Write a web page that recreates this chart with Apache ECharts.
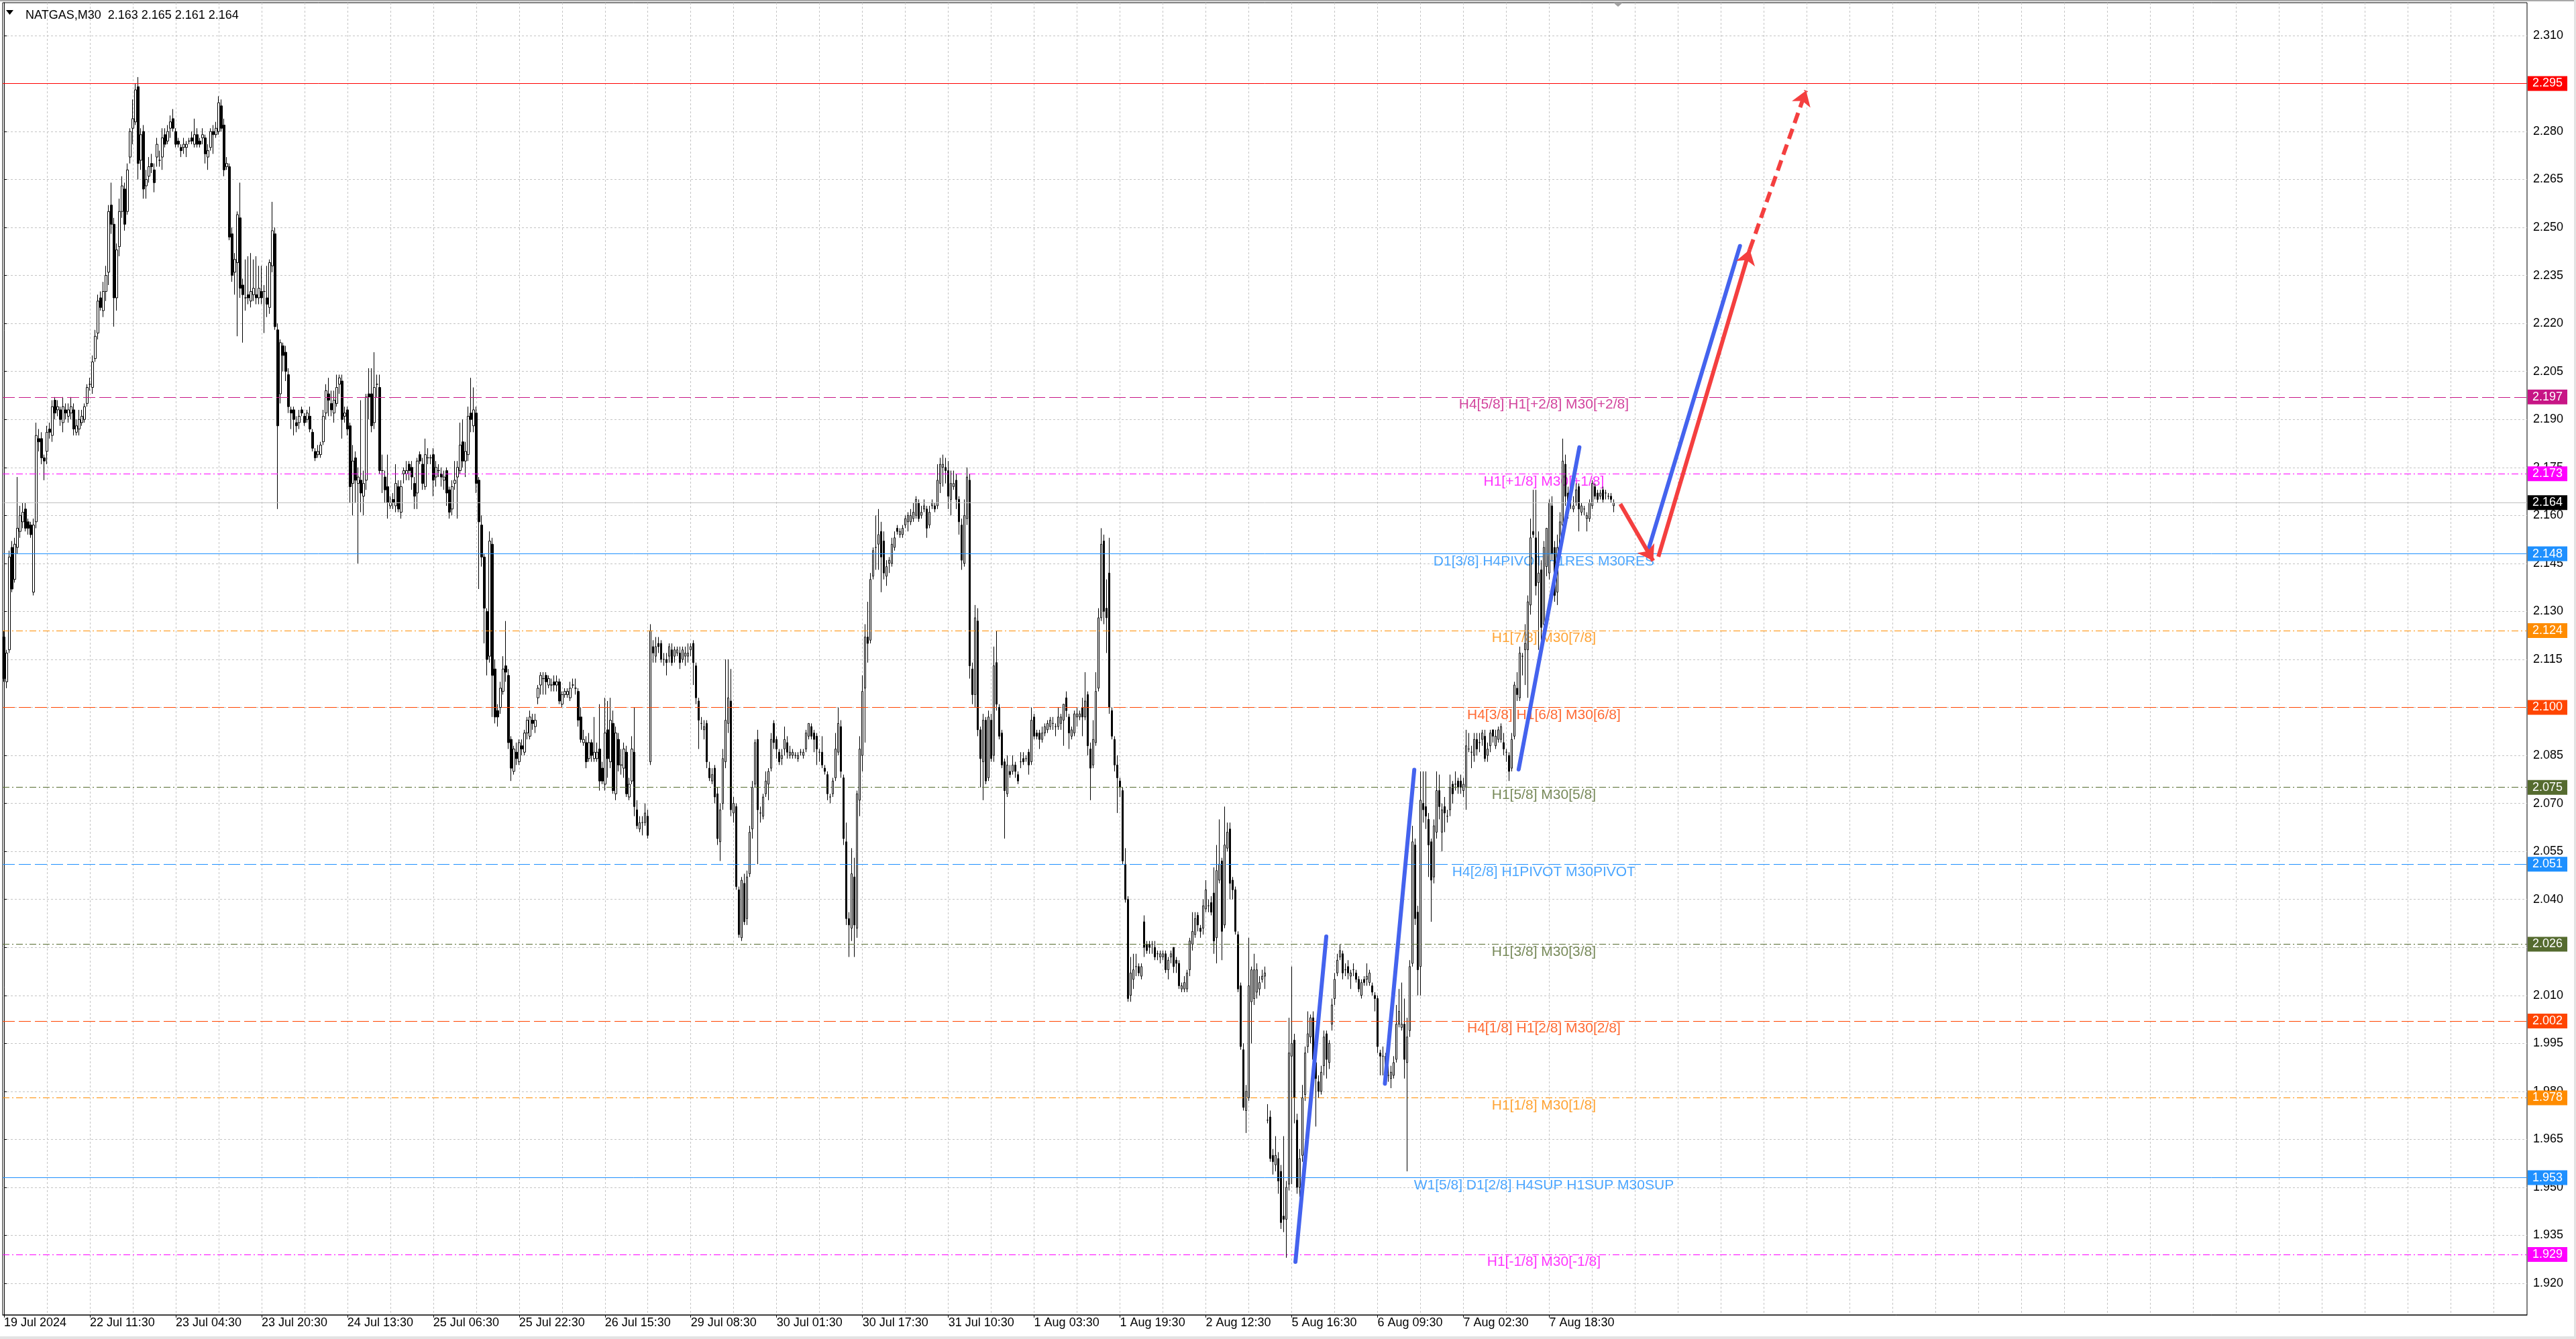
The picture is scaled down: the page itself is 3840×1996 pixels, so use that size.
<!DOCTYPE html>
<html><head><meta charset="utf-8">
<script src="https://cdn.jsdelivr.net/npm/echarts@6/dist/echarts.min.js"></script>
<style>html,body{margin:0;padding:0;background:#fff;overflow:hidden}#c{width:3840px;height:1996px}</style>
</head><body><div id="c"></div>
<script>
// ---------------- data ----------------
const chartTitle = 'NATGAS,M30  2.163 2.165 2.161 2.164';
const timeLabels = ['19 Jul 2024','22 Jul 11:30','23 Jul 04:30','23 Jul 20:30','24 Jul 13:30','25 Jul 06:30','25 Jul 22:30','26 Jul 15:30','29 Jul 08:30','30 Jul 01:30','30 Jul 17:30','31 Jul 10:30','1 Aug 03:30','1 Aug 19:30','2 Aug 12:30','5 Aug 16:30','6 Aug 09:30','7 Aug 02:30','7 Aug 18:30'];
const yTicks = [1.920,1.935,1.950,1.965,1.980,1.995,2.010,2.025,2.040,2.055,2.070,2.085,2.100,2.115,2.130,2.145,2.160,2.175,2.190,2.205,2.220,2.235,2.250,2.265,2.280,2.295,2.310];
// [open, high, low, close]
const bars = [
[2.122,2.124,2.108,2.109],[2.108,2.118,2.106,2.117],[2.118,2.149,2.117,2.147],[2.150,2.152,2.136,2.137],[2.140,2.153,2.139,2.151],
[2.150,2.172,2.148,2.156],[2.155,2.163,2.153,2.160],[2.158,2.164,2.156,2.161],[2.162,2.164,2.155,2.156],[2.158,2.159,2.154,2.156],
[2.157,2.158,2.153,2.154],[2.136,2.159,2.135,2.157],[2.158,2.189,2.156,2.185],[2.184,2.187,2.180,2.183],[2.184,2.186,2.176,2.178],
[2.178,2.179,2.171,2.177],[2.180,2.188,2.176,2.186],[2.187,2.189,2.184,2.186],[2.185,2.196,2.183,2.194],[2.196,2.197,2.190,2.192],
[2.193,2.196,2.191,2.194],[2.193,2.194,2.188,2.190],[2.189,2.197,2.186,2.194],[2.193,2.195,2.190,2.192],[2.191,2.195,2.189,2.193],
[2.192,2.197,2.190,2.194],[2.193,2.195,2.185,2.187],[2.186,2.190,2.185,2.188],[2.187,2.193,2.185,2.190],[2.189,2.193,2.188,2.191],
[2.190,2.195,2.189,2.194],[2.195,2.201,2.194,2.200],[2.201,2.203,2.199,2.201],[2.200,2.210,2.198,2.208],[2.209,2.218,2.208,2.216],
[2.217,2.229,2.215,2.227],[2.228,2.230,2.224,2.225],[2.224,2.233,2.222,2.230],[2.230,2.238,2.227,2.235],[2.236,2.257,2.232,2.255],
[2.257,2.264,2.248,2.251],[2.251,2.253,2.219,2.228],[2.228,2.245,2.224,2.243],[2.244,2.259,2.241,2.255],[2.255,2.266,2.253,2.263],
[2.262,2.264,2.249,2.251],[2.255,2.270,2.254,2.268],[2.272,2.281,2.270,2.280],[2.281,2.290,2.276,2.284],[2.283,2.295,2.282,2.293],
[2.294,2.297,2.265,2.270],[2.271,2.281,2.268,2.279],[2.280,2.282,2.259,2.262],[2.263,2.268,2.259,2.265],[2.266,2.272,2.264,2.269],
[2.270,2.273,2.267,2.269],[2.268,2.270,2.261,2.264],[2.272,2.278,2.269,2.276],[2.271,2.274,2.269,2.271],[2.272,2.281,2.268,2.278],
[2.279,2.281,2.275,2.276],[2.277,2.282,2.276,2.280],[2.281,2.285,2.278,2.283],[2.284,2.287,2.280,2.281],[2.280,2.281,2.275,2.276],
[2.277,2.278,2.275,2.276],[2.275,2.276,2.272,2.274],[2.275,2.278,2.273,2.276],[2.275,2.277,2.272,2.276],[2.277,2.278,2.276,2.277],
[2.278,2.280,2.276,2.277],[2.276,2.284,2.275,2.279],[2.279,2.281,2.275,2.276],[2.277,2.278,2.275,2.276],[2.278,2.281,2.276,2.279],
[2.278,2.279,2.270,2.273],[2.272,2.276,2.268,2.274],[2.275,2.281,2.274,2.280],[2.280,2.282,2.273,2.279],[2.279,2.283,2.278,2.281],
[2.280,2.291,2.279,2.289],[2.288,2.290,2.280,2.281],[2.282,2.284,2.266,2.268],[2.269,2.272,2.268,2.270],[2.269,2.270,2.246,2.247],
[2.248,2.250,2.233,2.235],[2.236,2.242,2.229,2.240],[2.239,2.255,2.216,2.254],[2.253,2.264,2.228,2.231],[2.232,2.234,2.214,2.229],
[2.228,2.240,2.224,2.228],[2.229,2.241,2.226,2.228],[2.227,2.242,2.225,2.230],[2.229,2.240,2.227,2.231],[2.229,2.241,2.226,2.228],
[2.228,2.238,2.226,2.231],[2.230,2.238,2.226,2.228],[2.230,2.232,2.217,2.230],[2.228,2.238,2.222,2.226],[2.225,2.240,2.223,2.239],
[2.238,2.258,2.236,2.249],[2.248,2.250,2.218,2.219],[2.218,2.220,2.162,2.188],[2.198,2.215,2.195,2.214],[2.213,2.214,2.205,2.210],
[2.211,2.213,2.202,2.205],[2.204,2.206,2.192,2.194],[2.193,2.194,2.187,2.192],[2.193,2.194,2.185,2.190],[2.189,2.191,2.186,2.188],
[2.189,2.193,2.187,2.191],[2.193,2.194,2.191,2.192],[2.191,2.192,2.188,2.189],[2.190,2.193,2.189,2.192],[2.191,2.194,2.186,2.187],
[2.186,2.187,2.180,2.181],[2.180,2.181,2.177,2.178],[2.179,2.182,2.178,2.180],[2.179,2.183,2.178,2.182],[2.183,2.193,2.182,2.191],
[2.192,2.201,2.190,2.199],[2.198,2.203,2.191,2.196],[2.195,2.199,2.191,2.193],[2.192,2.199,2.189,2.196],[2.195,2.204,2.194,2.200],
[2.201,2.204,2.198,2.203],[2.202,2.204,2.184,2.190],[2.191,2.194,2.189,2.192],[2.193,2.194,2.185,2.187],[2.188,2.189,2.164,2.169],
[2.170,2.182,2.160,2.177],[2.178,2.180,2.164,2.171],[2.170,2.175,2.145,2.172],[2.171,2.196,2.161,2.167],[2.166,2.174,2.160,2.170],
[2.171,2.198,2.168,2.197],[2.198,2.206,2.190,2.197],[2.198,2.206,2.186,2.188],[2.189,2.211,2.187,2.200],[2.201,2.204,2.197,2.201],
[2.200,2.204,2.173,2.174],[2.174,2.179,2.167,2.174],[2.172,2.174,2.164,2.168],[2.169,2.179,2.159,2.164],[2.163,2.166,2.162,2.164],
[2.165,2.167,2.162,2.164],[2.163,2.176,2.161,2.170],[2.169,2.171,2.161,2.162],[2.161,2.171,2.159,2.169],[2.173,2.175,2.170,2.174],
[2.173,2.177,2.171,2.174],[2.176,2.177,2.171,2.174],[2.175,2.177,2.168,2.172],[2.170,2.172,2.162,2.166],[2.167,2.178,2.162,2.177],
[2.179,2.180,2.176,2.177],[2.176,2.178,2.168,2.170],[2.169,2.184,2.168,2.179],[2.178,2.181,2.176,2.178],[2.178,2.179,2.176,2.178],
[2.179,2.181,2.166,2.171],[2.172,2.177,2.169,2.175],[2.174,2.176,2.172,2.174],[2.173,2.175,2.169,2.172],[2.171,2.174,2.168,2.172],
[2.174,2.175,2.163,2.167],[2.168,2.169,2.159,2.161],[2.162,2.171,2.160,2.169],[2.170,2.177,2.168,2.171],[2.172,2.177,2.159,2.175],
[2.174,2.189,2.173,2.182],[2.183,2.190,2.175,2.177],[2.177,2.183,2.172,2.180],[2.179,2.194,2.177,2.191],[2.192,2.203,2.186,2.190],
[2.188,2.200,2.186,2.193],[2.192,2.194,2.167,2.170],[2.171,2.172,2.137,2.158],[2.157,2.160,2.144,2.147],[2.147,2.148,2.120,2.131],
[2.130,2.131,2.110,2.115],[2.116,2.155,2.114,2.152],[2.151,2.153,2.097,2.110],[2.112,2.115,2.095,2.097],[2.099,2.101,2.094,2.097],
[2.100,2.108,2.098,2.106],[2.105,2.116,2.104,2.112],[2.113,2.127,2.108,2.111],[2.110,2.112,2.087,2.089],[2.090,2.091,2.077,2.081],
[2.080,2.088,2.079,2.087],[2.086,2.089,2.082,2.084],[2.083,2.090,2.082,2.089],[2.088,2.090,2.085,2.087],[2.086,2.093,2.085,2.092],
[2.092,2.097,2.090,2.096],[2.091,2.099,2.090,2.097],[2.096,2.098,2.093,2.095],[2.094,2.098,2.092,2.096],[2.103,2.107,2.101,2.106],
[2.107,2.111,2.104,2.110],[2.109,2.111,2.104,2.109],[2.110,2.111,2.104,2.108],[2.107,2.110,2.106,2.109],[2.107,2.109,2.105,2.107],
[2.108,2.110,2.105,2.107],[2.107,2.110,2.105,2.108],[2.108,2.109,2.101,2.102],[2.101,2.105,2.100,2.104],[2.104,2.106,2.103,2.105],
[2.104,2.106,2.103,2.105],[2.103,2.108,2.102,2.106],[2.107,2.109,2.106,2.107],[2.106,2.109,2.104,2.106],[2.105,2.106,2.094,2.096],
[2.097,2.100,2.089,2.090],[2.089,2.093,2.088,2.090],[2.089,2.091,2.081,2.083],[2.084,2.092,2.083,2.089],[2.089,2.090,2.083,2.085],
[2.084,2.097,2.083,2.086],[2.084,2.089,2.083,2.086],[2.087,2.101,2.074,2.077],[2.081,2.083,2.076,2.077],[2.076,2.103,2.074,2.092],
[2.093,2.102,2.078,2.084],[2.083,2.103,2.081,2.096],[2.095,2.099,2.073,2.074],[2.073,2.094,2.071,2.092],[2.090,2.092,2.080,2.082],
[2.082,2.087,2.079,2.082],[2.081,2.089,2.078,2.087],[2.086,2.088,2.072,2.073],[2.072,2.078,2.071,2.076],[2.077,2.091,2.076,2.087],
[2.086,2.100,2.066,2.069],[2.068,2.071,2.062,2.063],[2.062,2.066,2.061,2.064],[2.064,2.066,2.060,2.064],[2.064,2.070,2.063,2.067],
[2.066,2.068,2.059,2.060],[2.083,2.126,2.082,2.124],[2.119,2.121,2.114,2.117],[2.116,2.122,2.114,2.119],[2.120,2.122,2.117,2.119],
[2.120,2.121,2.114,2.115],[2.115,2.117,2.113,2.115],[2.115,2.117,2.110,2.114],[2.116,2.120,2.114,2.119],[2.118,2.120,2.113,2.114],
[2.116,2.119,2.114,2.118],[2.117,2.119,2.116,2.118],[2.117,2.119,2.112,2.114],[2.115,2.119,2.114,2.118],[2.116,2.119,2.113,2.117],
[2.116,2.120,2.114,2.117],[2.118,2.120,2.116,2.119],[2.120,2.121,2.107,2.114],[2.113,2.114,2.101,2.103],[2.102,2.103,2.087,2.096],
[2.095,2.097,2.093,2.095],[2.093,2.096,2.090,2.094],[2.095,2.096,2.081,2.083],[2.081,2.083,2.077,2.078],[2.077,2.081,2.076,2.079],
[2.081,2.082,2.070,2.072],[2.073,2.075,2.057,2.059],[2.058,2.070,2.052,2.068],[2.070,2.087,2.068,2.084],[2.083,2.115,2.081,2.096],
[2.095,2.115,2.092,2.103],[2.102,2.112,2.066,2.068],[2.067,2.072,2.064,2.070],[2.069,2.070,2.043,2.044],[2.043,2.044,2.028,2.029],
[2.028,2.047,2.027,2.046],[2.045,2.048,2.032,2.033],[2.034,2.049,2.032,2.047],[2.048,2.063,2.047,2.061],[2.062,2.077,2.059,2.075],
[2.076,2.090,2.075,2.089],[2.090,2.093,2.051,2.068],[2.067,2.069,2.064,2.067],[2.066,2.073,2.065,2.072],[2.073,2.080,2.072,2.077],
[2.076,2.081,2.071,2.080],[2.081,2.092,2.080,2.090],[2.095,2.096,2.087,2.089],[2.090,2.091,2.084,2.087],[2.086,2.087,2.082,2.083],
[2.084,2.087,2.082,2.085],[2.087,2.094,2.085,2.090],[2.089,2.091,2.084,2.086],[2.085,2.088,2.084,2.086],[2.085,2.087,2.084,2.086],
[2.085,2.086,2.084,2.085],[2.084,2.086,2.083,2.085],[2.086,2.087,2.085,2.086],[2.085,2.087,2.084,2.086],[2.087,2.093,2.086,2.092],
[2.091,2.095,2.090,2.095],[2.094,2.095,2.090,2.091],[2.092,2.093,2.086,2.090],[2.091,2.092,2.082,2.087],[2.086,2.087,2.083,2.086],
[2.086,2.091,2.081,2.082],[2.081,2.082,2.079,2.080],[2.079,2.080,2.071,2.073],[2.072,2.073,2.070,2.072],[2.073,2.078,2.072,2.077],
[2.078,2.092,2.077,2.087],[2.086,2.100,2.085,2.095],[2.094,2.096,2.078,2.080],[2.078,2.079,2.057,2.059],[2.058,2.064,2.032,2.034],
[2.034,2.036,2.022,2.032],[2.031,2.056,2.027,2.048],[2.047,2.053,2.022,2.032],[2.031,2.074,2.028,2.073],[2.071,2.091,2.066,2.087],
[2.085,2.110,2.080,2.105],[2.106,2.126,2.089,2.122],[2.122,2.133,2.114,2.120],[2.121,2.142,2.120,2.140],[2.141,2.150,2.140,2.149],
[2.150,2.160,2.143,2.150],[2.151,2.162,2.143,2.154],[2.155,2.158,2.136,2.147],[2.152,2.155,2.140,2.142],[2.141,2.146,2.138,2.144],
[2.145,2.147,2.142,2.146],[2.145,2.153,2.144,2.151],[2.150,2.155,2.149,2.153],[2.156,2.157,2.154,2.155],[2.154,2.156,2.153,2.155],
[2.154,2.157,2.153,2.156],[2.157,2.160,2.156,2.159],[2.158,2.161,2.155,2.160],[2.158,2.162,2.157,2.160],[2.159,2.164,2.158,2.161],
[2.160,2.166,2.159,2.165],[2.164,2.165,2.158,2.159],[2.160,2.163,2.159,2.161],[2.162,2.165,2.161,2.163],[2.162,2.163,2.153,2.156],
[2.157,2.163,2.156,2.161],[2.163,2.165,2.162,2.164],[2.163,2.164,2.161,2.162],[2.163,2.176,2.162,2.171],[2.170,2.178,2.167,2.176],
[2.175,2.179,2.169,2.176],[2.175,2.178,2.170,2.174],[2.174,2.177,2.162,2.166],[2.165,2.174,2.160,2.170],[2.169,2.174,2.168,2.170],
[2.171,2.173,2.162,2.165],[2.165,2.166,2.154,2.158],[2.157,2.159,2.143,2.146],[2.145,2.165,2.144,2.160],[2.159,2.175,2.157,2.172],
[2.171,2.173,2.109,2.113],[2.112,2.114,2.101,2.104],[2.104,2.132,2.100,2.128],[2.127,2.131,2.091,2.093],[2.093,2.094,2.075,2.084],
[2.083,2.098,2.071,2.096],[2.096,2.097,2.076,2.077],[2.078,2.099,2.077,2.097],[2.096,2.098,2.083,2.084],[2.085,2.119,2.083,2.113],
[2.114,2.124,2.099,2.101],[2.100,2.101,2.090,2.091],[2.092,2.093,2.081,2.082],[2.083,2.084,2.059,2.074],[2.073,2.085,2.072,2.082],
[2.080,2.082,2.078,2.079],[2.080,2.085,2.079,2.082],[2.082,2.083,2.078,2.080],[2.079,2.080,2.076,2.077],[2.083,2.086,2.081,2.083],
[2.084,2.086,2.082,2.083],[2.084,2.085,2.083,2.084],[2.086,2.087,2.079,2.082],[2.083,2.100,2.082,2.096],[2.097,2.098,2.090,2.091],
[2.092,2.093,2.090,2.091],[2.092,2.093,2.087,2.090],[2.090,2.094,2.089,2.092],[2.092,2.095,2.091,2.094],[2.093,2.096,2.092,2.095],
[2.094,2.097,2.093,2.096],[2.095,2.097,2.093,2.095],[2.094,2.095,2.091,2.094],[2.094,2.100,2.093,2.097],[2.095,2.098,2.093,2.097],
[2.096,2.101,2.088,2.101],[2.103,2.105,2.097,2.099],[2.097,2.098,2.087,2.092],[2.091,2.094,2.090,2.093],[2.092,2.099,2.091,2.098],
[2.097,2.100,2.094,2.098],[2.097,2.099,2.096,2.098],[2.100,2.103,2.091,2.097],[2.097,2.111,2.096,2.102],[2.104,2.105,2.085,2.088],
[2.087,2.089,2.071,2.081],[2.082,2.096,2.081,2.090],[2.089,2.111,2.088,2.105],[2.106,2.131,2.105,2.128],[2.128,2.156,2.127,2.151],
[2.152,2.154,2.126,2.130],[2.131,2.140,2.117,2.128],[2.142,2.153,2.098,2.100],[2.099,2.100,2.090,2.091],[2.090,2.091,2.080,2.082],
[2.082,2.085,2.067,2.078],[2.077,2.078,2.072,2.075],[2.074,2.075,2.051,2.052],[2.051,2.056,2.039,2.040],[2.040,2.041,2.008,2.009],
[2.010,2.022,2.008,2.017],[2.015,2.023,2.012,2.018],[2.019,2.023,2.016,2.019],[2.019,2.020,2.016,2.017],[2.016,2.020,2.015,2.019],
[2.033,2.035,2.022,2.025],[2.026,2.027,2.023,2.024],[2.026,2.027,2.023,2.025],[2.026,2.027,2.023,2.026],[2.025,2.027,2.021,2.022],
[2.023,2.024,2.021,2.023],[2.022,2.024,2.020,2.023],[2.022,2.024,2.021,2.023],[2.023,2.024,2.017,2.018],[2.018,2.022,2.015,2.021],
[2.022,2.024,2.020,2.023],[2.025,2.025,2.017,2.019],[2.021,2.022,2.017,2.020],[2.020,2.021,2.012,2.013],[2.012,2.014,2.011,2.013],
[2.012,2.016,2.011,2.014],[2.012,2.018,2.011,2.017],[2.018,2.028,2.016,2.027],[2.026,2.036,2.024,2.030],[2.029,2.036,2.028,2.034],
[2.035,2.036,2.030,2.032],[2.031,2.032,2.028,2.030],[2.031,2.040,2.029,2.038],[2.037,2.046,2.036,2.043],[2.038,2.040,2.036,2.038],
[2.039,2.041,2.035,2.036],[2.042,2.050,2.023,2.027],[2.028,2.057,2.020,2.049],[2.046,2.065,2.045,2.051],[2.052,2.053,2.021,2.030],
[2.032,2.069,2.031,2.057],[2.056,2.064,2.055,2.061],[2.062,2.064,2.040,2.045],[2.046,2.047,2.040,2.043],[2.043,2.044,2.029,2.030],
[2.029,2.030,2.011,2.012],[2.013,2.014,1.993,1.994],[1.993,1.995,1.974,1.975],[1.974,1.982,1.967,1.980],[1.978,2.028,1.977,2.013],
[2.008,2.019,1.995,2.018],[2.009,2.023,2.007,2.018],[2.011,2.020,2.009,2.018],[2.012,2.016,2.010,2.014],[2.015,2.018,2.014,2.016],
[2.016,2.019,2.012,2.017],[1.971,1.976,1.970,1.971],[1.972,1.974,1.958,1.959],[1.960,1.962,1.954,1.958],[1.957,1.966,1.955,1.960],
[1.959,1.961,1.948,1.952],[1.955,1.957,1.937,1.939],[1.941,1.966,1.936,1.940],[1.940,1.952,1.928,1.950],[1.951,2.003,1.949,1.992],
[1.991,2.019,1.951,1.995],[1.996,1.998,1.970,1.978],[1.971,1.973,1.948,1.950],[1.950,1.962,1.947,1.959],[1.960,1.982,1.958,1.978],
[1.979,1.994,1.977,1.992],[1.994,2.005,1.992,1.998],[1.997,2.004,1.995,2.003],[2.003,2.005,1.988,1.990],[1.989,1.990,1.969,1.984],
[1.983,1.985,1.978,1.980],[1.980,1.988,1.979,1.986],[1.988,1.999,1.985,1.997],[1.998,1.999,1.984,1.990],[1.989,1.996,1.987,1.995],
[2.001,2.009,1.999,2.007],[2.009,2.017,2.007,2.015],[2.017,2.023,2.016,2.021],[2.022,2.026,2.021,2.024],[2.023,2.024,2.015,2.017],
[2.018,2.020,2.016,2.018],[2.019,2.021,2.015,2.017],[2.016,2.018,2.012,2.017],[2.018,2.020,2.016,2.018],[2.017,2.018,2.014,2.015],
[2.015,2.016,2.011,2.012],[2.010,2.015,2.009,2.014],[2.015,2.016,2.013,2.014],[2.015,2.020,2.013,2.016],[2.014,2.018,2.013,2.017],
[2.013,2.014,2.010,2.011],[2.010,2.011,2.005,2.009],[2.009,2.010,1.992,1.994],[1.992,1.993,1.985,1.991],[1.991,1.994,1.985,1.991],
[1.988,1.992,1.987,1.991],[1.985,1.988,1.983,1.985],[1.984,1.988,1.981,1.986],[1.985,1.991,1.984,1.989],[1.990,2.007,1.989,2.001],
[2.001,2.012,2.000,2.005],[2.000,2.014,1.999,2.001],[2.001,2.009,1.984,1.990],[1.989,2.003,1.955,1.997],[1.999,2.021,1.997,2.019],
[2.020,2.063,2.019,2.058],[2.057,2.059,2.032,2.034],[2.036,2.038,2.010,2.018],[2.019,2.080,2.010,2.071],[2.070,2.080,2.064,2.068],
[2.069,2.080,2.062,2.066],[2.065,2.067,2.047,2.057],[2.058,2.059,2.033,2.046],[2.047,2.065,2.045,2.063],[2.061,2.080,2.059,2.074],
[2.074,2.079,2.065,2.069],[2.061,2.070,2.055,2.068],[2.069,2.072,2.061,2.067],[2.066,2.068,2.064,2.066],[2.068,2.079,2.066,2.075],
[2.076,2.077,2.070,2.073],[2.076,2.080,2.074,2.076],[2.077,2.078,2.073,2.075],[2.077,2.079,2.073,2.075],[2.074,2.078,2.072,2.076],
[2.075,2.093,2.068,2.088],[2.087,2.092,2.086,2.087],[2.086,2.088,2.081,2.086],[2.085,2.092,2.083,2.090],[2.090,2.092,2.085,2.087],
[2.089,2.092,2.086,2.089],[2.090,2.093,2.088,2.092],[2.091,2.093,2.083,2.084],[2.085,2.089,2.083,2.087],[2.088,2.093,2.086,2.092],
[2.093,2.093,2.089,2.091],[2.088,2.093,2.087,2.091],[2.090,2.094,2.089,2.093],[2.090,2.095,2.089,2.094],[2.089,2.092,2.085,2.087],
[2.086,2.087,2.083,2.086],[2.085,2.086,2.077,2.080],[2.081,2.092,2.080,2.090],[2.091,2.108,2.090,2.107],[2.106,2.111,2.102,2.104],
[2.103,2.119,2.102,2.117],[2.116,2.117,2.110,2.116],[2.118,2.126,2.107,2.120],[2.118,2.135,2.103,2.133],[2.132,2.159,2.129,2.153],
[2.155,2.168,2.153,2.154],[2.153,2.168,2.135,2.138],[2.139,2.155,2.118,2.142],[2.143,2.146,2.121,2.125],[2.126,2.152,2.124,2.150],
[2.144,2.156,2.141,2.156],[2.142,2.165,2.140,2.164],[2.163,2.166,2.146,2.148],[2.150,2.152,2.133,2.135],[2.136,2.154,2.132,2.150],
[2.149,2.161,2.147,2.158],[2.157,2.184,2.156,2.177],[2.176,2.179,2.163,2.166],[2.167,2.169,2.159,2.163],[2.165,2.167,2.162,2.165],
[2.162,2.166,2.161,2.163],[2.164,2.170,2.163,2.168],[2.169,2.170,2.155,2.162],[2.161,2.164,2.160,2.163],[2.162,2.163,2.160,2.162],
[2.159,2.161,2.155,2.160],[2.159,2.165,2.158,2.164],[2.163,2.171,2.162,2.170],[2.169,2.170,2.165,2.166],[2.167,2.168,2.164,2.165],
[2.166,2.168,2.165,2.167],[2.168,2.169,2.164,2.165],[2.167,2.168,2.165,2.167],[2.166,2.167,2.165,2.166],[2.166,2.167,2.164,2.165],
[2.163,2.165,2.161,2.164]
];
const levelPrices = [2.295,2.197,2.173,2.164,2.148,2.124,2.100,2.075,2.051,2.026,2.002,1.978,1.953,1.929];
const levelTexts = ['','H4[5/8] H1[+2/8] M30[+2/8]','H1[+1/8] M30[+1/8]','','D1[3/8] H4PIVOT H1RES M30RES','H1[7/8] M30[7/8]','H4[3/8] H1[6/8] M30[6/8]','H1[5/8] M30[5/8]','H4[2/8] H1PIVOT M30PIVOT','H1[3/8] M30[3/8]','H4[1/8] H1[2/8] M30[2/8]','H1[1/8] M30[1/8]','W1[5/8] D1[2/8] H4SUP H1SUP M30SUP','H1[-1/8] M30[-1/8]'];
// drawn trend annotations: [[barIndex, price], [barIndex, price]]
const blueLines = [[[481.4,1.9267],[492.9,2.0284]],[[514.75,1.9824],[525.7,2.0805]],[[564.6,2.0806],[587.25,2.1813]],[[613,2.1494],[647.1,2.2442]]];
const redArrows = [[[602.5,2.1636],[614.75,2.1458]],[[616.7,2.1471],[650.75,2.2431]]];
const redDashedArrow = [[[650.75,2.2431],[671.75,2.2928]]];

// ---------------- layout / style ----------------
const SLOTS = 941, LABEL_EVERY = 32, TEXT_AT = 574;
const Y_MIN = 1.91015, Y_MAX = 2.32025;
const FONT = '"Liberation Sans", Arial, sans-serif';
const DASH = [18, 6], DASHDOT = [10, 4, 2, 4];
const levelStyle = [
  {c:'#FF0000', t:'solid'}, {c:'#C71585', t:DASH}, {c:'#FF00FF', t:DASHDOT}, {c:'#C0C0C0', t:'solid', box:'#000000'},
  {c:'#1E90FF', t:'solid'}, {c:'#FF8C00', t:DASHDOT}, {c:'#FF4500', t:DASH}, {c:'#556B2F', t:DASHDOT},
  {c:'#1E90FF', t:DASH}, {c:'#556B2F', t:DASHDOT}, {c:'#FF4500', t:DASH}, {c:'#FF8C00', t:DASHDOT},
  {c:'#1E90FF', t:'solid'}, {c:'#FF00FF', t:DASHDOT}
];

const slotIds = Array.from({length: SLOTS}, (_, i) => String(i));
const showLabel = (i) => i % LABEL_EVERY === 0 && i / LABEL_EVERY < timeLabels.length;

const chart = echarts.init(document.getElementById('c'), null, {renderer: 'canvas'});
chart.setOption({
  animation: false,
  backgroundColor: '#ffffff',
  title: {text: chartTitle, left: 33, top: 9, textStyle: {fontSize: 18, fontWeight: 'normal', color: '#000', fontFamily: FONT}},
  graphic: [
    {type: 'polygon', shape: {points: [[9,15],[20,15],[14.5,22]]}, style: {fill: '#000'}},
    {type: 'polygon', shape: {points: [[2405,4],[2419,4],[2412,10]]}, style: {fill: '#A0A0A0'}, z: 10},
    {type: 'rect', shape: {x: 0, y: 1992, width: 3840, height: 4}, style: {fill: '#E3E3E3'}},
    {type: 'rect', shape: {x: 0, y: 0, width: 3840, height: 2}, style: {fill: '#A8A8A8'}},
    {type: 'rect', shape: {x: 3837, y: 0, width: 3, height: 1996}, style: {fill: '#E3E3E3'}}
  ],
  grid: {left: 4, top: 4, right: 73, bottom: 36, show: true, borderColor: '#000', borderWidth: 1, backgroundColor: 'transparent'},
  xAxis: [{
    type: 'category', data: slotIds, boundaryGap: true,
    axisLine: {lineStyle: {color: '#000', width: 1}},
    axisTick: {show: true, interval: showLabel, alignWithLabel: true, length: 4, lineStyle: {color: '#000'}},
    axisLabel: {interval: showLabel, formatter: (v, i) => timeLabels[i / LABEL_EVERY] || '', align: 'left', margin: 3,
      color: '#000', fontSize: 18, fontFamily: FONT},
    splitLine: {show: true, interval: 15, alignWithLabel: true, lineStyle: {color: '#C4C4C4', type: [3, 3]}}
  }, {type: 'value', min: -0.5, max: SLOTS - 0.5, show: false}],
  yAxis: {
    type: 'value', position: 'right', min: Y_MIN, max: Y_MAX,
    axisLine: {show: true, lineStyle: {color: '#000'}},
    axisTick: {show: true, length: 4, customValues: yTicks, lineStyle: {color: '#000'}},
    axisLabel: {customValues: yTicks, formatter: v => v.toFixed(3), margin: 9, color: '#000', fontSize: 18, fontFamily: FONT},
    splitLine: {show: true, lineStyle: {color: '#C4C4C4', type: [3, 3]}}
  },
  series: [
    {
      type: 'line', data: [], clip: false, z: 1, silent: true,
      markLine: {
        silent: true, symbol: ['none', 'none'], animation: false, precision: 3,
        data: levelPrices.map((p, k) => ({
          yAxis: p,
          lineStyle: {color: levelStyle[k].c, type: levelStyle[k].t, width: 1},
          label: {show: true, position: 'end', distance: 1, formatter: p.toFixed(3), color: '#fff',
            backgroundColor: levelStyle[k].box || levelStyle[k].c, padding: [2, 7, 2, 7],
            fontSize: 18, fontFamily: FONT}
        }))
      }
    },
    {
      type: 'scatter', xAxisIndex: 1, yAxisIndex: 0, symbolSize: 0, z: 2, silent: true,
      data: levelPrices.map((p, k) => ({name: levelTexts[k], value: [TEXT_AT, p],
        label: {color: levelStyle[k].c}})).filter(d => d.name),
      label: {show: true, position: 'bottom', distance: 1, formatter: '{b}', fontSize: 21, fontFamily: FONT}
    },
    {
      type: 'candlestick', xAxisIndex: 0, yAxisIndex: 0, z: 3, large: false, barWidth: 3,
      data: bars.map(b => [b[0], b[3], b[2], b[1]]),
      itemStyle: {color: '#ffffff', color0: '#000000', borderColor: '#000000', borderColor0: '#000000', borderWidth: 1}
    },
    {
      type: 'lines', coordinateSystem: 'cartesian2d', xAxisIndex: 1, yAxisIndex: 0, z: 6, silent: true,
      data: blueLines.map(s => ({coords: s})),
      lineStyle: {color: '#4463EE', width: 6, opacity: 1, cap: 'round'}
    },
    {
      type: 'lines', coordinateSystem: 'cartesian2d', xAxisIndex: 1, yAxisIndex: 0, z: 6, silent: true,
      data: redArrows.map(s => ({coords: s})), symbol: ['none', 'arrow'], symbolSize: 22,
      lineStyle: {color: '#F43F3F', width: 6, opacity: 1}
    },
    {
      type: 'lines', coordinateSystem: 'cartesian2d', xAxisIndex: 1, yAxisIndex: 0, z: 6, silent: true,
      data: redDashedArrow.map(s => ({coords: s})), symbol: ['none', 'arrow'], symbolSize: 22,
      lineStyle: {color: '#F43F3F', width: 6, opacity: 1, type: [16, 9]}
    }
  ]
});
</script></body></html>
